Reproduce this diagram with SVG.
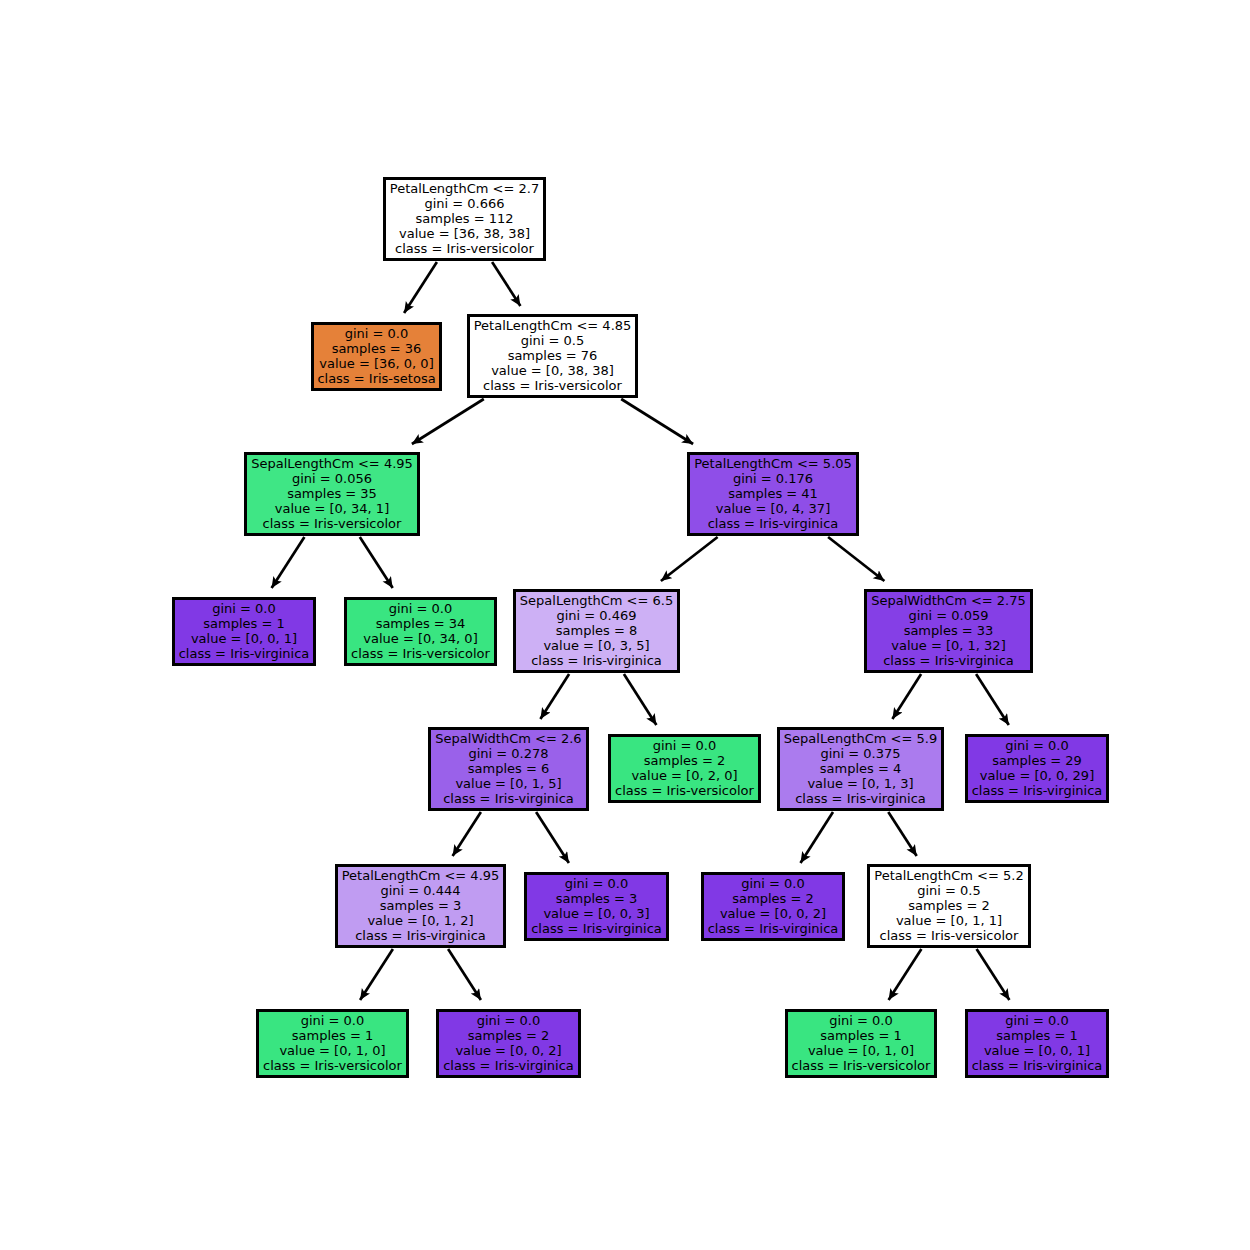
<svg xmlns="http://www.w3.org/2000/svg" width="1250" height="1250" viewBox="0 0 1250 1250">
<defs>
<marker id="ah" markerUnits="userSpaceOnUse" markerWidth="13" markerHeight="11" refX="11" refY="5" orient="auto">
<path d="M0,0 L11,5 L0,10 L2.5,5 z" fill="#000"/>
</marker>
</defs>
<style>
rect{stroke:#000;stroke-width:3}
text{font-family:"DejaVu Sans",sans-serif;font-size:13px;text-anchor:middle;fill:#000}
.e line{stroke:#000;stroke-width:2.7;marker-end:url(#ah)}
.w{fill:#ffffff}.o{fill:#e58139}.g{fill:#39e581}.p{fill:#8139e5}
</style>
<rect width="1250" height="1250" fill="#fff" style="stroke:none"/>
<g id="edges" class="e">
<line x1="436.9" y1="262" x2="404.1" y2="313"/>
<line x1="492.1" y1="262" x2="520.4" y2="306"/>
<line x1="483.8" y1="399" x2="411.9" y2="444"/>
<line x1="621.2" y1="399" x2="693.1" y2="444"/>
<line x1="304.4" y1="537" x2="271.6" y2="588"/>
<line x1="359.8" y1="537" x2="392.7" y2="588"/>
<line x1="717.6" y1="537" x2="660.9" y2="581"/>
<line x1="828.1" y1="537" x2="884.4" y2="581"/>
<line x1="569.1" y1="674" x2="540.4" y2="719"/>
<line x1="623.9" y1="674" x2="656.4" y2="725"/>
<line x1="921.1" y1="674" x2="892.4" y2="719"/>
<line x1="976.1" y1="674" x2="1008.8" y2="725"/>
<line x1="480.9" y1="812" x2="452.6" y2="856"/>
<line x1="536.1" y1="812" x2="568.9" y2="863"/>
<line x1="833" y1="812" x2="800.5" y2="863"/>
<line x1="888.3" y1="812" x2="916.7" y2="856"/>
<line x1="392.9" y1="949" x2="360.1" y2="1000"/>
<line x1="448.1" y1="949" x2="480.9" y2="1000"/>
<line x1="921.4" y1="949" x2="888.6" y2="1000"/>
<line x1="976.6" y1="949" x2="1009.4" y2="1000"/>
</g>
<g id="n0"><rect class="w" x="384.5" y="178.5" width="160" height="81"/>
<text x="464.5" y="193">PetalLengthCm &lt;= 2.7</text><text x="464.5" y="208">gini = 0.666</text><text x="464.5" y="223">samples = 112</text><text x="464.5" y="238">value = [36, 38, 38]</text><text x="464.5" y="253">class = Iris-versicolor</text></g>
<g id="n1"><rect class="o" x="312.5" y="323.5" width="128" height="66"/>
<text x="376.5" y="338">gini = 0.0</text><text x="376.5" y="353">samples = 36</text><text x="376.5" y="368">value = [36, 0, 0]</text><text x="376.5" y="383">class = Iris-setosa</text></g>
<g id="n2"><rect class="w" x="468.5" y="315.5" width="168" height="81"/>
<text x="552.5" y="330">PetalLengthCm &lt;= 4.85</text><text x="552.5" y="345">gini = 0.5</text><text x="552.5" y="360">samples = 76</text><text x="552.5" y="375">value = [0, 38, 38]</text><text x="552.5" y="390">class = Iris-versicolor</text></g>
<g id="n3"><rect x="245.5" y="453.5" width="173" height="81" fill="#3fe685"/>
<text x="332" y="468">SepalLengthCm &lt;= 4.95</text><text x="332" y="483">gini = 0.056</text><text x="332" y="498">samples = 35</text><text x="332" y="513">value = [0, 34, 1]</text><text x="332" y="528">class = Iris-versicolor</text></g>
<g id="n4"><rect x="688.5" y="453.5" width="169" height="81" fill="#8f4ee8"/>
<text x="773" y="468">PetalLengthCm &lt;= 5.05</text><text x="773" y="483">gini = 0.176</text><text x="773" y="498">samples = 41</text><text x="773" y="513">value = [0, 4, 37]</text><text x="773" y="528">class = Iris-virginica</text></g>
<g id="n5"><rect class="p" x="173.5" y="598.5" width="141" height="66"/>
<text x="244" y="613">gini = 0.0</text><text x="244" y="628">samples = 1</text><text x="244" y="643">value = [0, 0, 1]</text><text x="244" y="658">class = Iris-virginica</text></g>
<g id="n6"><rect class="g" x="345.5" y="598.5" width="150" height="66"/>
<text x="420.5" y="613">gini = 0.0</text><text x="420.5" y="628">samples = 34</text><text x="420.5" y="643">value = [0, 34, 0]</text><text x="420.5" y="658">class = Iris-versicolor</text></g>
<g id="n7"><rect x="514.5" y="590.5" width="164" height="81" fill="#cdb0f5"/>
<text x="596.5" y="605">SepalLengthCm &lt;= 6.5</text><text x="596.5" y="620">gini = 0.469</text><text x="596.5" y="635">samples = 8</text><text x="596.5" y="650">value = [0, 3, 5]</text><text x="596.5" y="665">class = Iris-virginica</text></g>
<g id="n8"><rect x="865.5" y="590.5" width="166" height="81" fill="#853fe6"/>
<text x="948.5" y="605">SepalWidthCm &lt;= 2.75</text><text x="948.5" y="620">gini = 0.059</text><text x="948.5" y="635">samples = 33</text><text x="948.5" y="650">value = [0, 1, 32]</text><text x="948.5" y="665">class = Iris-virginica</text></g>
<g id="n9"><rect x="429.5" y="728.5" width="158" height="81" fill="#9a61ea"/>
<text x="508.5" y="743">SepalWidthCm &lt;= 2.6</text><text x="508.5" y="758">gini = 0.278</text><text x="508.5" y="773">samples = 6</text><text x="508.5" y="788">value = [0, 1, 5]</text><text x="508.5" y="803">class = Iris-virginica</text></g>
<g id="n10"><rect class="g" x="609.5" y="735.5" width="150" height="66"/>
<text x="684.5" y="750">gini = 0.0</text><text x="684.5" y="765">samples = 2</text><text x="684.5" y="780">value = [0, 2, 0]</text><text x="684.5" y="795">class = Iris-versicolor</text></g>
<g id="n11"><rect x="778.5" y="728.5" width="164" height="81" fill="#ab7bee"/>
<text x="860.5" y="743">SepalLengthCm &lt;= 5.9</text><text x="860.5" y="758">gini = 0.375</text><text x="860.5" y="773">samples = 4</text><text x="860.5" y="788">value = [0, 1, 3]</text><text x="860.5" y="803">class = Iris-virginica</text></g>
<g id="n12"><rect class="p" x="966.5" y="735.5" width="141" height="66"/>
<text x="1037" y="750">gini = 0.0</text><text x="1037" y="765">samples = 29</text><text x="1037" y="780">value = [0, 0, 29]</text><text x="1037" y="795">class = Iris-virginica</text></g>
<g id="n13"><rect x="336.5" y="865.5" width="168" height="81" fill="#c09cf2"/>
<text x="420.5" y="880">PetalLengthCm &lt;= 4.95</text><text x="420.5" y="895">gini = 0.444</text><text x="420.5" y="910">samples = 3</text><text x="420.5" y="925">value = [0, 1, 2]</text><text x="420.5" y="940">class = Iris-virginica</text></g>
<g id="n14"><rect class="p" x="525.5" y="873.5" width="142" height="66"/>
<text x="596.5" y="888">gini = 0.0</text><text x="596.5" y="903">samples = 3</text><text x="596.5" y="918">value = [0, 0, 3]</text><text x="596.5" y="933">class = Iris-virginica</text></g>
<g id="n15"><rect class="p" x="702.5" y="873.5" width="141" height="66"/>
<text x="773" y="888">gini = 0.0</text><text x="773" y="903">samples = 2</text><text x="773" y="918">value = [0, 0, 2]</text><text x="773" y="933">class = Iris-virginica</text></g>
<g id="n16"><rect class="w" x="868.5" y="865.5" width="161" height="81"/>
<text x="949" y="880">PetalLengthCm &lt;= 5.2</text><text x="949" y="895">gini = 0.5</text><text x="949" y="910">samples = 2</text><text x="949" y="925">value = [0, 1, 1]</text><text x="949" y="940">class = Iris-versicolor</text></g>
<g id="n17"><rect class="g" x="257.5" y="1010.5" width="150" height="66"/>
<text x="332.5" y="1025">gini = 0.0</text><text x="332.5" y="1040">samples = 1</text><text x="332.5" y="1055">value = [0, 1, 0]</text><text x="332.5" y="1070">class = Iris-versicolor</text></g>
<g id="n18"><rect class="p" x="437.5" y="1010.5" width="142" height="66"/>
<text x="508.5" y="1025">gini = 0.0</text><text x="508.5" y="1040">samples = 2</text><text x="508.5" y="1055">value = [0, 0, 2]</text><text x="508.5" y="1070">class = Iris-virginica</text></g>
<g id="n19"><rect class="g" x="786.5" y="1010.5" width="149" height="66"/>
<text x="861" y="1025">gini = 0.0</text><text x="861" y="1040">samples = 1</text><text x="861" y="1055">value = [0, 1, 0]</text><text x="861" y="1070">class = Iris-versicolor</text></g>
<g id="n20"><rect class="p" x="966.5" y="1010.5" width="141" height="66"/>
<text x="1037" y="1025">gini = 0.0</text><text x="1037" y="1040">samples = 1</text><text x="1037" y="1055">value = [0, 0, 1]</text><text x="1037" y="1070">class = Iris-virginica</text></g>
</svg>
